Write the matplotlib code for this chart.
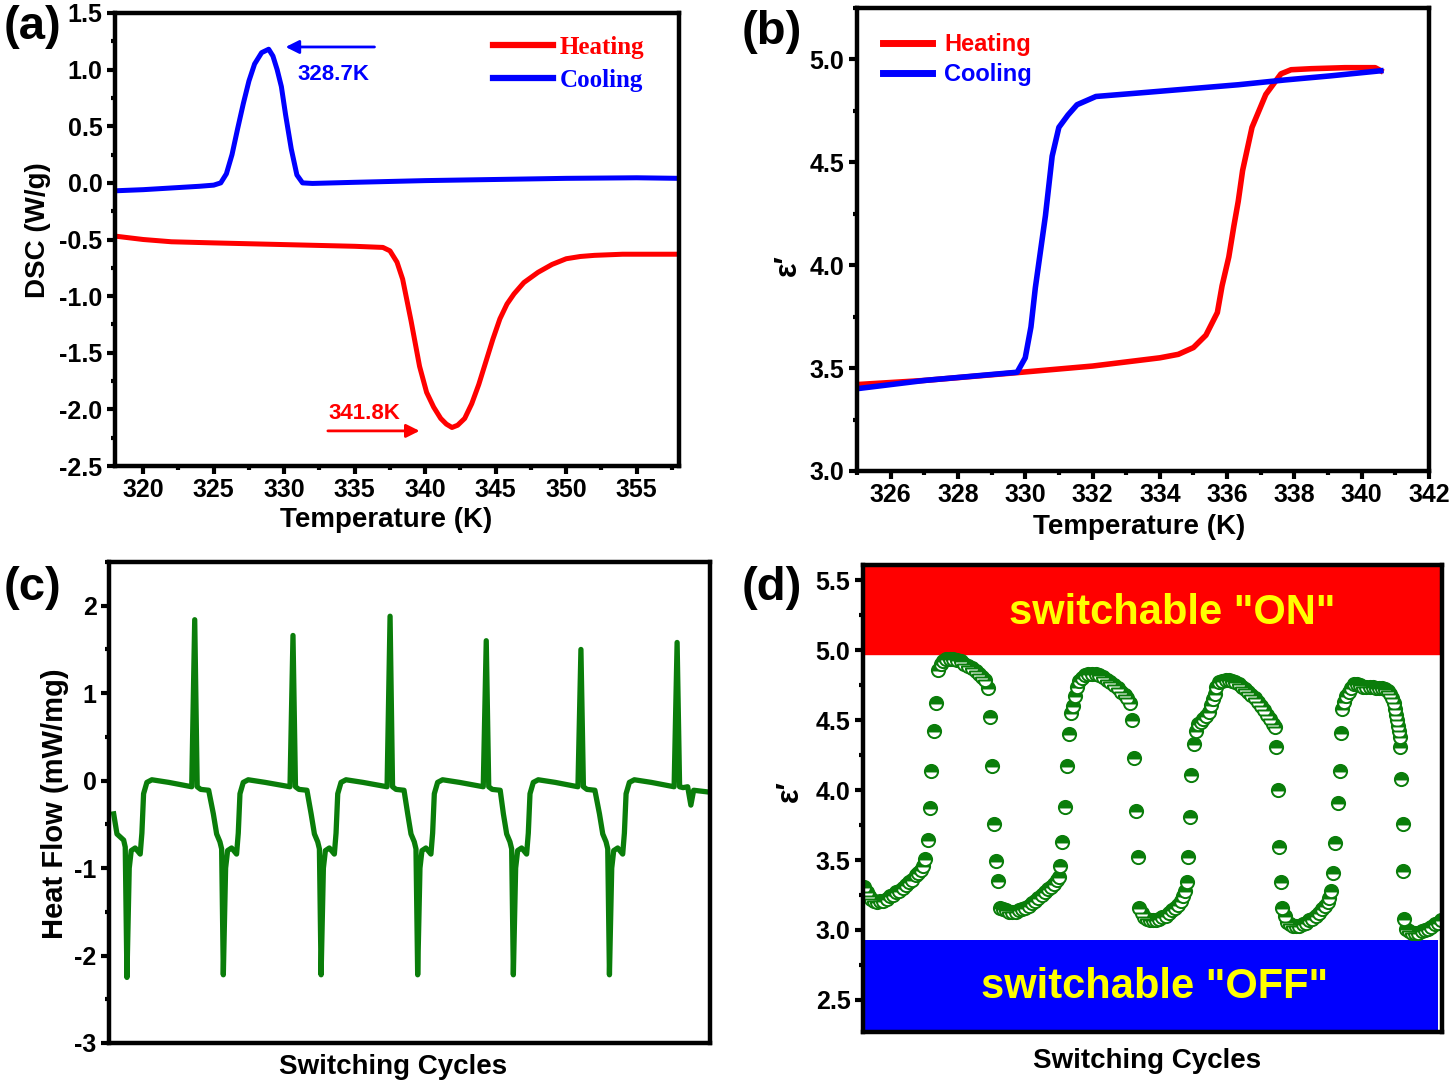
import numpy as np
import matplotlib
matplotlib.use("Agg")
import matplotlib.pyplot as plt
from matplotlib.ticker import MultipleLocator

plt.rcParams['font.family'] = ['Liberation Sans', 'DejaVu Sans']
plt.rcParams['font.weight'] = 'bold'
plt.rcParams['axes.labelweight'] = 'bold'
plt.rcParams['axes.unicode_minus'] = False

# ---- (a) DSC data ----
dsc_heat_T = [318, 320, 322, 325, 330, 335, 337, 337.5, 338, 338.4, 339, 339.6, 340.1, 340.6,
              341.1, 341.5, 341.9, 342.3, 342.8, 343.3, 343.8, 344.3, 344.8, 345.3, 345.8,
              346.3, 347, 348, 349, 350, 351, 352, 354, 356, 358]
dsc_heat = [-0.47, -0.50, -0.52, -0.53, -0.545, -0.56, -0.57, -0.60, -0.70, -0.85, -1.22, -1.62,
            -1.85, -1.98, -2.08, -2.13, -2.16, -2.14, -2.08, -1.95, -1.78, -1.58, -1.38, -1.20,
            -1.07, -0.98, -0.88, -0.79, -0.72, -0.67, -0.65, -0.64, -0.63, -0.63, -0.63]
dsc_cool_T = [318, 320, 322, 324, 325, 325.5, 325.9, 326.3, 326.7, 327.1, 327.5, 327.9, 328.4,
              328.9, 329.2, 329.5, 329.8, 330.1, 330.5, 330.9, 331.3, 332, 335, 340, 345, 350,
              355, 358]
dsc_cool = [-0.07, -0.06, -0.045, -0.03, -0.02, 0.0, 0.08, 0.25, 0.48, 0.70, 0.90, 1.05, 1.15,
            1.18, 1.12, 1.0, 0.85, 0.60, 0.30, 0.07, 0.0, -0.005, 0.005, 0.02, 0.03, 0.04,
            0.045, 0.04]

# ---- (b) dielectric hysteresis ----
eps_heat_T = [325, 327, 329.9, 332, 334, 334.55, 335.0, 335.37, 335.71, 335.85, 336.05, 336.2,
              336.33, 336.46, 336.74, 337.15, 337.6, 337.9, 338.5, 339.5, 340.4, 340.57]
eps_heat = [3.42, 3.44, 3.48, 3.51, 3.55, 3.567, 3.60, 3.66, 3.77, 3.90, 4.04, 4.19, 4.31, 4.46,
            4.67, 4.83, 4.93, 4.95, 4.955, 4.96, 4.96, 4.945]
eps_cool_T = [325, 327, 329.76, 330.0, 330.17, 330.3, 330.6, 330.8, 331.0, 331.27, 331.54,
              332.1, 333.6, 336.33, 337.7, 339.06, 340.57]
eps_cool = [3.40, 3.44, 3.48, 3.55, 3.70, 3.89, 4.24, 4.53, 4.67, 4.73, 4.78, 4.82, 4.84,
            4.877, 4.90, 4.92, 4.945]

# ---- (c) DSC switching cycles ----
hf_t = [4.7, 8.0, 14.7, 16.3, 18.0, 20.3, 22.3, 26.3, 31.3, 33.0, 34.7, 38.0, 43.0, 60.0, 83.0, 86.0, 88.5, 92.0, 100.0,
        104.7, 108.0, 111.3, 113.0, 114.7, 117.0, 119.0, 123.0, 128.0, 129.7, 131.4, 134.7, 139.7, 156.7, 181.6, 184.6, 187.1, 190.6, 198.6,
        202.8, 206.1, 209.4, 211.1, 212.8, 215.1, 217.1, 221.1, 226.1, 227.8, 229.5, 232.8, 237.8, 254.8, 279.0, 282.0, 284.5, 288.0, 296.0,
        299.7, 303.0, 306.3, 308.0, 309.7, 312.0, 314.0, 318.0, 323.0, 324.7, 326.4, 329.7, 334.7, 351.7, 375.5, 378.5, 381.0, 384.5, 392.5,
        395.7, 399.0, 402.3, 404.0, 405.7, 408.0, 410.0, 414.0, 419.0, 420.7, 422.4, 425.7, 430.7, 447.7, 470.5, 473.5, 476.0, 479.5, 487.5,
        492.1, 495.4, 498.7, 500.4, 502.1, 504.4, 506.4, 510.4, 515.4, 517.1, 518.8, 522.1, 527.1, 544.1, 567.0, 570.0, 572.5, 576.0,
        580.6, 583.8, 586.6, 601.4]
hf = [-0.38, -0.61, -0.68, -0.76, -2.25, -1.0, -0.8, -0.77, -0.84, -0.6, -0.15, -0.02, 0.01, -0.02, -0.07, 1.84, -0.07, -0.1, -0.11,
      -0.38, -0.61, -0.70, -0.78, -2.22, -1.0, -0.8, -0.77, -0.84, -0.6, -0.15, -0.02, 0.01, -0.02, -0.07, 1.66, -0.07, -0.1, -0.11,
      -0.38, -0.61, -0.70, -0.78, -2.22, -1.0, -0.8, -0.77, -0.84, -0.6, -0.15, -0.02, 0.01, -0.02, -0.07, 1.88, -0.07, -0.1, -0.11,
      -0.38, -0.61, -0.70, -0.78, -2.22, -1.0, -0.8, -0.77, -0.84, -0.6, -0.15, -0.02, 0.01, -0.02, -0.07, 1.60, -0.07, -0.1, -0.11,
      -0.38, -0.61, -0.70, -0.78, -2.22, -1.0, -0.8, -0.77, -0.84, -0.6, -0.15, -0.02, 0.01, -0.02, -0.07, 1.50, -0.07, -0.1, -0.11,
      -0.38, -0.61, -0.70, -0.78, -2.22, -1.0, -0.8, -0.77, -0.84, -0.6, -0.15, -0.02, 0.01, -0.02, -0.07, 1.58, -0.07, -0.08,
      -0.07, -0.28, -0.11, -0.13]

# ---- (d) permittivity switching ----
sw_t = [293, 298, 303, 308, 314, 320, 327, 334, 341, 348, 355, 362, 369, 376, 383, 390, 397, 404, 410, 416, 421,
        425, 430, 435, 438, 443, 448, 453, 458,
        463, 470, 478, 486, 494, 502, 510, 518, 526, 534, 542, 549, 555,
        560, 565, 569, 574, 578, 582,
        588, 594, 600, 607, 614, 621, 628, 635, 642, 649, 656, 663, 670, 677, 684, 691, 698, 704, 710, 714,
        718, 722, 727, 732, 737, 741, 745, 749, 754,
        758, 764, 771, 778, 786, 794, 802, 810, 818, 826, 834, 842, 850, 857, 862,
        868, 873, 877, 881, 885,
        889, 894, 899, 905, 911, 918, 925, 932, 939, 946, 953, 960, 967, 973, 979, 984, 989, 992,
        995, 998, 1002, 1007, 1011, 1016, 1022, 1028, 1034, 1040, 1045, 1048, 1052, 1056,
        1062, 1069, 1076, 1083, 1090, 1097, 1104, 1111, 1118, 1125, 1132, 1139, 1146, 1153, 1160, 1166, 1172, 1178, 1182,
        1185, 1189, 1192, 1197, 1199,
        1204, 1209, 1215, 1222, 1229, 1236, 1243, 1250, 1257, 1264, 1271, 1278, 1285, 1291, 1297, 1301, 1305,
        1309, 1314, 1319, 1323, 1325, 1328, 1333, 1338, 1343,
        1348, 1354, 1360, 1367, 1374, 1381, 1388, 1395, 1402, 1409, 1416, 1422, 1428, 1433, 1437, 1440, 1443, 1446, 1448, 1450, 1452, 1453, 1455,
        1457, 1460, 1460, 1463,
        1468, 1474, 1480, 1487, 1494, 1501, 1508, 1515, 1522, 1529, 1536, 1542]
sw_eps = [3.31, 3.27, 3.24, 3.22, 3.21, 3.20, 3.21, 3.21, 3.22, 3.24, 3.25, 3.27, 3.28, 3.30, 3.32, 3.34, 3.36, 3.39, 3.41, 3.43, 3.46,
          3.51, 3.64, 3.87, 4.14, 4.42, 4.62, 4.86, 4.90,
          4.92, 4.94, 4.94, 4.94, 4.93, 4.92, 4.90, 4.89, 4.87, 4.85, 4.83, 4.81, 4.79,
          4.73, 4.52, 4.17, 3.76, 3.49, 3.35,
          3.16, 3.15, 3.14, 3.13, 3.13, 3.13, 3.14, 3.15, 3.16, 3.17, 3.19, 3.21, 3.23, 3.25, 3.27, 3.29, 3.31, 3.33, 3.36, 3.38,
          3.46, 3.63, 3.88, 4.17, 4.40, 4.55, 4.60, 4.67, 4.74,
          4.78, 4.80, 4.82, 4.83, 4.83, 4.83, 4.82, 4.81, 4.79, 4.77, 4.75, 4.73, 4.70, 4.68, 4.66,
          4.62, 4.50, 4.23, 3.85, 3.52,
          3.16, 3.12, 3.09, 3.08, 3.07, 3.07, 3.07, 3.08, 3.09, 3.10, 3.12, 3.14, 3.16, 3.18, 3.21, 3.24, 3.28, 3.34,
          3.52, 3.81, 4.11, 4.33, 4.42, 4.47, 4.49, 4.51, 4.53, 4.56, 4.61, 4.65, 4.69, 4.74,
          4.77, 4.78, 4.79, 4.79, 4.78, 4.77, 4.76, 4.74, 4.72, 4.70, 4.68, 4.66, 4.63, 4.60, 4.57, 4.54, 4.51, 4.47, 4.45,
          4.31, 4.00, 3.59, 3.34, 3.16,
          3.10, 3.06, 3.04, 3.03, 3.03, 3.03, 3.04, 3.05, 3.07, 3.08, 3.10, 3.12, 3.15, 3.17, 3.20, 3.23, 3.28,
          3.41, 3.62, 3.91, 4.14, 4.41, 4.58, 4.63, 4.67, 4.70,
          4.73, 4.76, 4.76, 4.75, 4.74, 4.74, 4.74, 4.74, 4.73, 4.73, 4.73, 4.72, 4.71, 4.69, 4.66, 4.62, 4.58, 4.54, 4.50, 4.46, 4.42, 4.38, 4.31,
          4.08, 3.76, 3.42, 3.08,
          3.01, 2.99, 2.98, 2.98, 2.98, 2.99, 3.00, 3.01, 3.02, 3.04, 3.05, 3.07]

W, H = 1453, 1088
fig = plt.figure(figsize=(W / 100, H / 100), dpi=100)


def add_ax(l, t, r, b):
    return fig.add_axes([l / W, 1 - b / H, (r - l) / W, (b - t) / H])


def style(ax, xticks=True):
    for s in ax.spines.values():
        s.set_linewidth(3.2)
    ax.tick_params(which='both', direction='out', width=3, labelsize=18,
                   top=False, right=False)
    ax.tick_params(which='major', length=5.5)
    ax.tick_params(which='minor', length=3.2)
    if not xticks:
        ax.tick_params(axis='x', which='both', bottom=False, labelbottom=False)


# (a)
ax1 = add_ax(115, 13, 679, 466)
ax1.plot(dsc_heat_T, dsc_heat, color='#ff0000', lw=3.6, label='Heating')
ax1.plot(dsc_cool_T, dsc_cool, color='#0000ff', lw=3.6, label='Cooling')
ax1.set_xlim(318, 358)
ax1.set_ylim(-2.5, 1.5)
ax1.set_xticks(np.arange(320, 356, 5))
ax1.xaxis.set_minor_locator(MultipleLocator(2.5))
ax1.yaxis.set_minor_locator(MultipleLocator(0.25))
ax1.set_yticks(np.arange(-2.5, 1.51, 0.5))
style(ax1)
ax1.set_xlabel('Temperature (K)', fontsize=20, va='center')
ax1.set_ylabel('DSC (W/g)', fontsize=20, va='center')
ax1.xaxis.set_label_coords(0.48, -0.119)
ax1.yaxis.set_label_coords(-0.137, 0.521)
leg = ax1.legend(loc='upper left', bbox_to_anchor=(0.671, 0.95), frameon=False,
                 handlelength=2.4, handletextpad=0.25, labelspacing=0.4,
                 borderpad=0, borderaxespad=0,
                 prop={'family': 'Liberation Serif', 'weight': 'bold', 'size': 18})
for txt, c in zip(leg.get_texts(), ['#ff0000', '#0000ff']):
    txt.set_color(c)
for ln in leg.get_lines():
    ln.set_linewidth(4.5)
ax1.annotate('', xy=(329.9, 1.2), xytext=(336.6, 1.2),
             arrowprops=dict(arrowstyle='-|>', color='#0000ff', lw=2, mutation_scale=20))
ax1.text(333.5, 0.96, '328.7K', color='#0000ff', fontsize=16, ha='center', va='center')
ax1.annotate('', xy=(339.8, -2.19), xytext=(332.9, -2.19),
             arrowprops=dict(arrowstyle='-|>', color='#ff0000', lw=2, mutation_scale=20))
ax1.text(335.7, -2.04, '341.8K', color='#ff0000', fontsize=16, ha='center', va='center')

# (b)
ax2 = add_ax(857, 8, 1429, 471)
ax2.plot(eps_heat_T, eps_heat, color='#ff0000', lw=4, label='Heating')
ax2.plot(eps_cool_T, eps_cool, color='#0000ff', lw=4, label='Cooling')
ax2.set_xlim(325, 342)
ax2.set_ylim(3.0, 5.25)
ax2.set_xticks(np.arange(326, 343, 2))
ax2.set_yticks(np.arange(3.0, 5.01, 0.5))
ax2.xaxis.set_minor_locator(MultipleLocator(1))
ax2.yaxis.set_minor_locator(MultipleLocator(0.25))
style(ax2)
ax2.set_xlabel('Temperature (K)', fontsize=20, va='center')
ax2.set_ylabel('ε′', fontsize=22, va='center')
ax2.xaxis.set_label_coords(0.493, -0.121)
ax2.yaxis.set_label_coords(-0.12, 0.445)
leg2 = ax2.legend(loc='upper left', bbox_to_anchor=(0.045, 0.945), frameon=False,
                  handlelength=2.1, handletextpad=0.5, labelspacing=0.27,
                  borderpad=0, borderaxespad=0, prop={'weight': 'bold', 'size': 17})
for txt, c in zip(leg2.get_texts(), ['#ff0000', '#0000ff']):
    txt.set_color(c)
for ln in leg2.get_lines():
    ln.set_linewidth(5)

# (c)
ax3 = add_ax(109, 562, 710, 1043)
ax3.plot(hf_t, hf, color='#0a7d0a', lw=3.8)
ax3.set_xlim(0, 603)
ax3.set_ylim(-3, 2.5)
ax3.set_yticks(np.arange(-3, 2.1, 1))
ax3.yaxis.set_minor_locator(MultipleLocator(0.5))
style(ax3, xticks=False)
ax3.set_xlabel('Switching Cycles', fontsize=20, va='center')
ax3.set_ylabel('Heat Flow (mW/mg)', fontsize=21, va='center')
ax3.xaxis.set_label_coords(0.472, -0.05)
ax3.yaxis.set_label_coords(-0.09, 0.497)

# (d)
ax4 = add_ax(863, 565, 1442, 1032)
ax4.axhspan(4.97, 5.61, color='#ff0000', zorder=0)
ax4.fill_between([290, 1537], 2.27, 2.93, color='#0000ff', zorder=0, lw=0)
ax4.plot(sw_t, sw_eps, ls='none', marker='o', ms=9.5, fillstyle='top',
         mfc='#0a7d0a', mfcalt='white', mec='#0a7d0a', mew=1.4)
ax4.set_xlim(290, 1545)
ax4.set_ylim(2.27, 5.61)
ax4.set_yticks(np.arange(2.5, 5.51, 0.5))
ax4.yaxis.set_minor_locator(MultipleLocator(0.25))
style(ax4, xticks=False)
ax4.text(960, 5.27, 'switchable "ON"', color='#ffff00', fontsize=30, ha='center', va='center')
ax4.text(921, 2.59, 'switchable "OFF"', color='#ffff00', fontsize=30, ha='center', va='center')
ax4.set_xlabel('Switching Cycles', fontsize=20, va='center')
ax4.set_ylabel('ε′', fontsize=22, va='center')
ax4.xaxis.set_label_coords(0.491, -0.062)
ax4.yaxis.set_label_coords(-0.126, 0.516)

# panel letters
for lab, x, y in [('(a)', 33, 27), ('(b)', 772, 32), ('(c)', 33, 588), ('(d)', 772, 588)]:
    fig.text(x / W, 1 - y / H, lab, fontsize=34, ha='center', va='center')

fig.savefig('out.png', dpi=100)
